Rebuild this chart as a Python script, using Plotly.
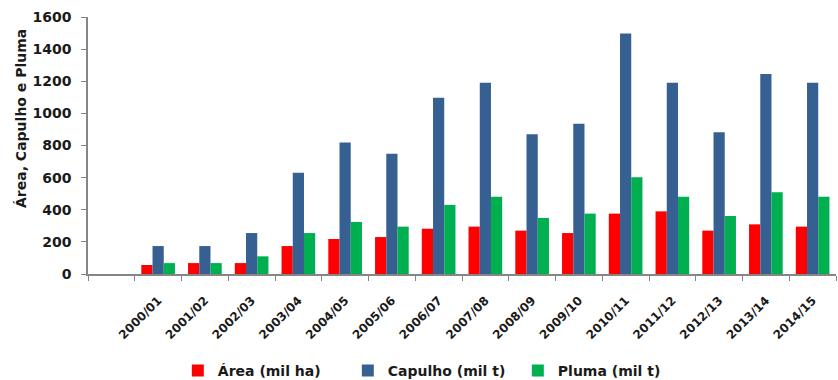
import plotly.graph_objects as go

# Safras (a primeira categoria fica vazia, sem rótulo)
safras = [" ", "2000/01", "2001/02", "2002/03", "2003/04", "2004/05", "2005/06",
          "2006/07", "2007/08", "2008/09", "2009/10", "2010/11", "2011/12",
          "2012/13", "2013/14", "2014/15"]

area = [None, 56, 68, 68, 174, 218, 230, 282, 295, 270, 255, 376, 390, 270, 309, 295]
capulho = [None, 174, 174, 255, 631, 818, 749, 1098, 1191, 870, 936, 1498, 1191, 882, 1245, 1191]
pluma = [None, 68, 68, 110, 255, 324, 295, 430, 481, 349, 376, 602, 481, 361, 509, 481]

series = [
    ("Área (mil ha)", area, "#FF0000"),
    ("Capulho (mil t)", capulho, "#376092"),
    ("Pluma (mil t)", pluma, "#00B050"),
]

y_title = "Área, Capulho e Pluma"

font_family = "DejaVu Sans"
text_color = "#1a1a1a"
axis_color = "#868686"

fig = go.Figure()
for name, values, color in series:
    fig.add_trace(go.Bar(
        x=safras, y=values, name=name,
        marker=dict(color=color, line=dict(width=0)),
    ))

fig.update_layout(
    width=838, height=380,
    margin=dict(l=88, r=2, t=17, b=106),
    paper_bgcolor="white", plot_bgcolor="white",
    barmode="group", bargap=0.28, bargroupgap=0,
    font=dict(family=font_family, size=13, color=text_color, weight="bold"),
    showlegend=True,
    legend=dict(
        orientation="h",
        x=0.461, xanchor="center",
        yref="container", y=0.024, yanchor="middle",
        font=dict(size=14, color=text_color, weight="bold"),
        itemwidth=30,
        entrywidth=125,
        traceorder="normal",
    ),
)

fig.update_xaxes(
    type="category", categoryorder="array", categoryarray=safras,
    tickangle=-45, tickson="boundaries",
    ticks="outside", ticklen=5, tickcolor=axis_color,
    showline=True, linecolor=axis_color, linewidth=1.5,
    showgrid=False, zeroline=False,
    tickfont=dict(size=12, color=text_color, weight="bold"),
    ticklabelstandoff=13,
)

fig.update_yaxes(
    range=[0, 1600], dtick=200,
    ticks="outside", ticklen=5, tickcolor=axis_color,
    showline=True, linecolor=axis_color, linewidth=1.5,
    showgrid=False, zeroline=False,
    tickfont=dict(size=14, color=text_color, weight="bold"),
    ticklabelstandoff=7,
)

# Título do eixo vertical, deslocado para cima
fig.add_annotation(
    text=y_title, textangle=-90, showarrow=False,
    xref="paper", yref="paper",
    x=(21 - 88) / 748, y=(274 - 119) / 257,
    xanchor="center", yanchor="middle",
    font=dict(size=14, color=text_color, weight="bold"),
)

fig.write_html("out.html")
